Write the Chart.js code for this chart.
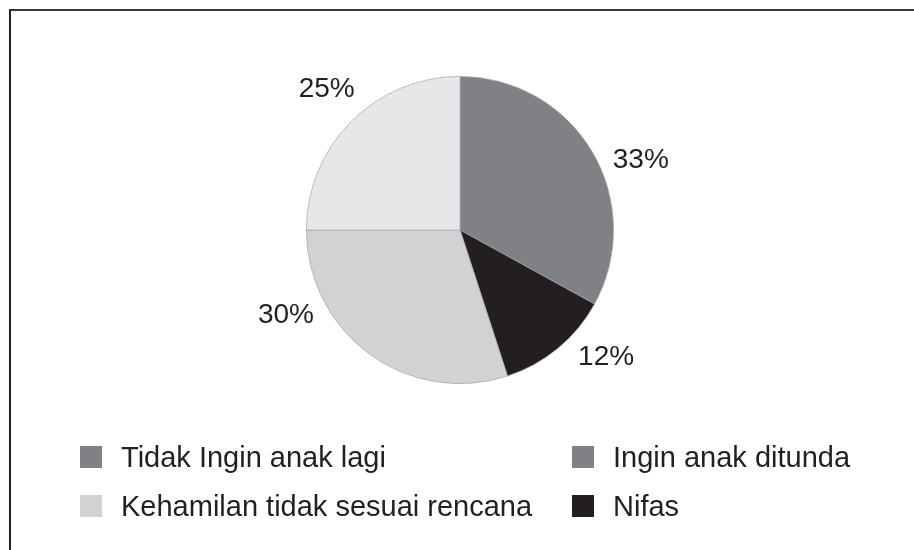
<!DOCTYPE html>
<html>
<head>
<meta charset="utf-8">
<script src="https://cdn.jsdelivr.net/npm/chart.js@4/dist/chart.umd.min.js"></script>
<style>
  html, body { margin:0; padding:0; background:#fff; }
  #wrap { position:relative; width:914px; height:550px; overflow:hidden; font-family:"Liberation Sans", Arial, sans-serif; color:#231f20; }
  #frame { position:absolute; left:9px; top:9px; width:1000px; height:1000px; border-top:2px solid #3a3a3a; border-left:2px solid #231f20; }
  #pie { position:absolute; left:0; top:0; }
  #legend { position:absolute; left:80px; top:444px; display:grid; grid-template-columns:492px auto; row-gap:23px; }
  .item { display:flex; align-items:center; height:26px; font-size:29px; white-space:nowrap; }
  .box { width:22px; height:22px; margin-right:19px; flex:none; }
</style>
</head>
<body>
<div id="wrap">
  <div id="frame"></div>
  <canvas id="pie" width="914" height="550"></canvas>
  <div id="legend"></div>
</div>
<script>
// Alasan
const categories = ['Tidak Ingin anak lagi', 'Ingin anak ditunda', 'Kehamilan tidak sesuai rencana', 'Nifas'];
const percents = [33, 12, 30, 25];
const sliceColors = ['#808184', '#231f20', '#d1d2d4', '#e6e7e8'];
// warna kotak legenda seperti di gambar asli
const legendColors = ['#808184', '#808184', '#d1d2d4', '#231f20'];

// geser sudut label (derajat) supaya mirip penempatan Excel
const labelAngleShift = [9.6, -9.4, 28, 1.5];
const labelDistance = 40;

const pctLabels = {
  id: 'pctLabels',
  afterDatasetsDraw(chart) {
    const ctx = chart.ctx;
    const meta = chart.getDatasetMeta(0);
    ctx.save();
    ctx.font = '28px "Liberation Sans", Arial, sans-serif';
    ctx.fillStyle = '#231f20';
    ctx.textAlign = 'center';
    ctx.textBaseline = 'middle';
    meta.data.forEach((arc, i) => {
      const p = arc.getProps(['x', 'y', 'startAngle', 'endAngle', 'outerRadius'], true);
      const a = (p.startAngle + p.endAngle) / 2 + labelAngleShift[i] * Math.PI / 180;
      const d = p.outerRadius + labelDistance;
      ctx.fillText(percents[i] + '%', p.x + d * Math.cos(a), p.y + d * Math.sin(a));
    });
    ctx.restore();
  }
};

new Chart(document.getElementById('pie'), {
  type: 'pie',
  data: {
    labels: categories,
    datasets: [{
      data: percents,
      backgroundColor: sliceColors,
      borderColor: '#a7a9ac',
      borderWidth: 0.75
    }]
  },
  options: {
    responsive: false,
    animation: false,
    layout: { padding: { top: 76, bottom: 166, left: 6, right: 0 } },
    plugins: { legend: { display: false }, tooltip: { enabled: false } }
  },
  plugins: [pctLabels]
});

// legenda dua kolom
const legend = document.getElementById('legend');
categories.forEach((c, i) => {
  const el = document.createElement('div');
  el.className = 'item';
  el.innerHTML = '<span class="box" style="background:' + legendColors[i] + '"></span><span>' + c + '</span>';
  legend.appendChild(el);
});
</script>
</body>
</html>
